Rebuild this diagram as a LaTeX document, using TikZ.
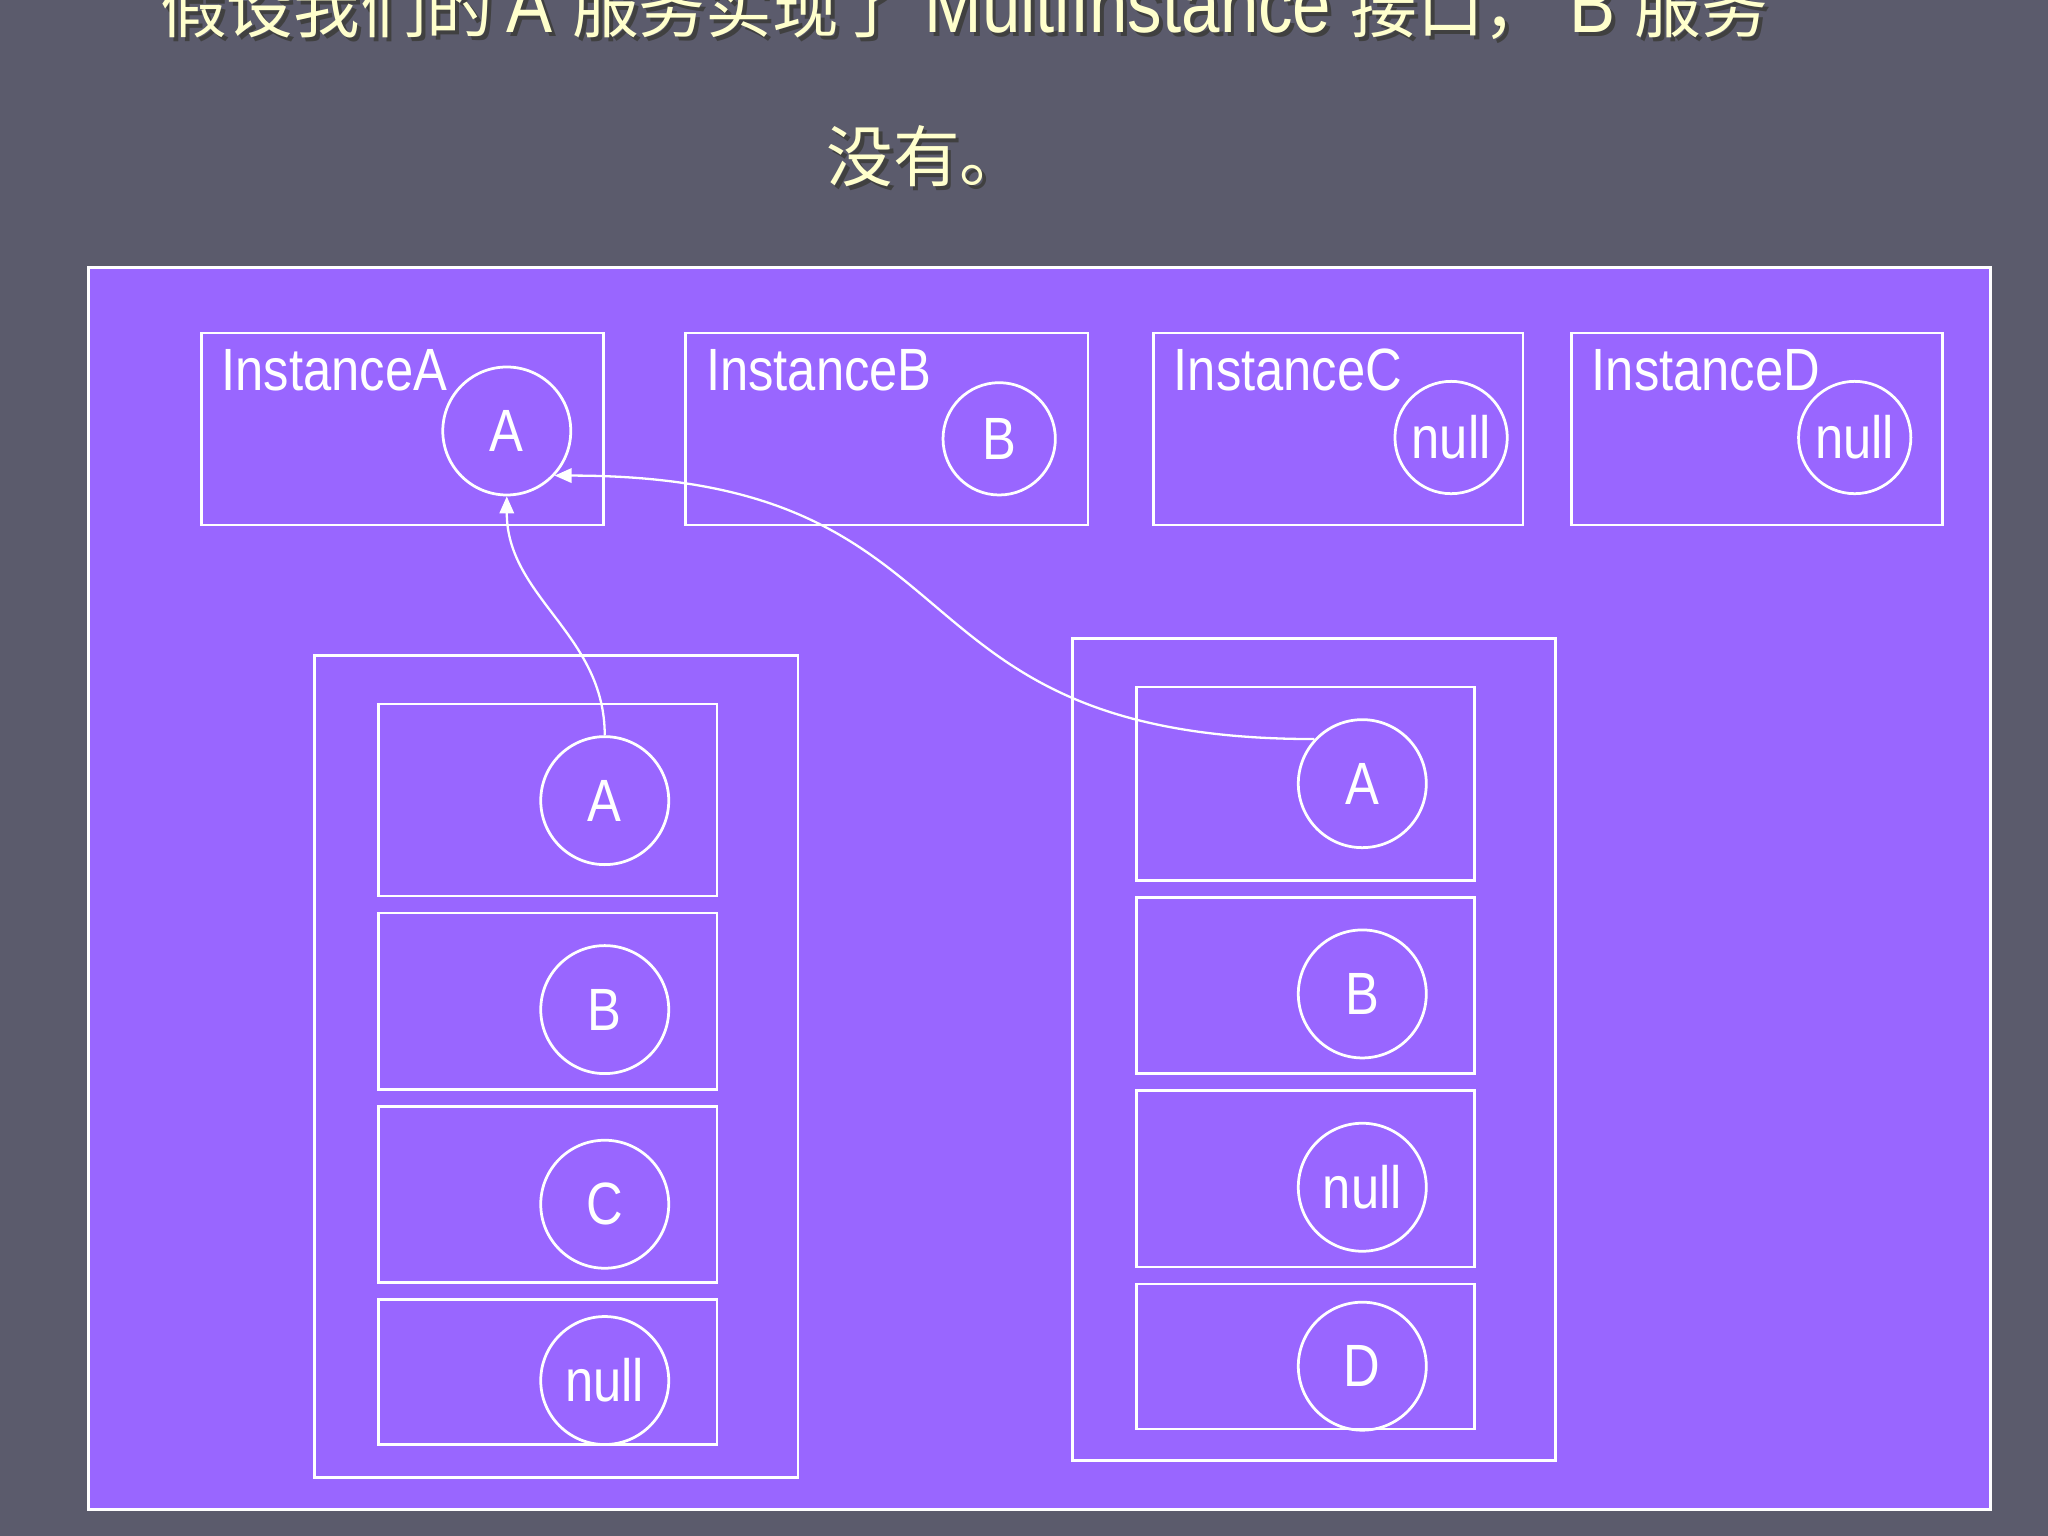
\documentclass[tikz,border=0pt]{standalone}
\usepackage{fontspec}
\setmainfont{Liberation Sans}[FakeStretch=0.85]
\newfontfamily\cjk{Noto Sans CJK SC}[Scale=0.82]
\usepackage{tikz}
\usetikzlibrary{arrows.meta, positioning}
\definecolor{slidegray}{RGB}{91,91,108}
\definecolor{panelpurple}{RGB}{153,102,255}
\definecolor{titlecream}{RGB}{255,255,204}

\newcommand{\firstline}{{\cjk 假设我们的}\,A {\cjk 服务实现了} MultiInstance {\cjk 接口，}\ B {\cjk 服务}}
\newcommand{\secondline}{{\cjk 没有。}}

\begin{document}
\begin{tikzpicture}[
    headline/.style={font=\fontsize{17.7}{20}\selectfont, text=titlecream, inner sep=0, anchor=base west},
    box/.style={rectangle, draw=white, line width=0.6pt, inner sep=0},
    tag/.style={inner sep=0, anchor=base west, text=white, font=\fontsize{13}{15}\selectfont},
    slot/.style={circle, draw=white, line width=0.6pt, inner sep=0, minimum size=0.98cm,
                 text=white, font=\fontsize{13}{15}\selectfont},
    link/.style={draw=white, line width=0.5pt, -{Triangle[length=0.13cm, width=0.11cm]}}
]
    \useasboundingbox (0,0) rectangle (15.68,11.76);
    \clip (0,0) rectangle (15.68,11.76);
    \fill[slidegray] (0,0) rectangle (15.68,11.76);

    % title with its shadow
    \node[headline, text=black!75] (head1shade) at (1.25,11.48) {\firstline};
    \node[headline] (head1) at (1.22,11.51) {\firstline};
    \node[headline, text=black!75] (head2shade) at (6.35,10.34) {\secondline};
    \node[headline] (head2) at (6.32,10.37) {\secondline};

    \node[box, fill=panelpurple, minimum width=14.56cm, minimum height=9.51cm] (panel) at (7.96,4.955) {};

    % the four instances
    \node[box, minimum width=3.08cm, minimum height=1.47cm] (instA) at (3.08,8.475) {};
    \node[box, minimum width=3.08cm, minimum height=1.47cm] (instB) at (6.79,8.475) {};
    \node[box, minimum width=2.83cm, minimum height=1.47cm] (instC) at (10.245,8.475) {};
    \node[box, minimum width=2.84cm, minimum height=1.47cm] (instD) at (13.45,8.475) {};
    \node[tag] (instAtag) at ([xshift=0.16cm, yshift=-0.45cm]instA.north west) {InstanceA};
    \node[tag] (instBtag) at ([xshift=0.16cm, yshift=-0.45cm]instB.north west) {InstanceB};
    \node[tag] (instCtag) at ([xshift=0.16cm, yshift=-0.45cm]instC.north west) {InstanceC};
    \node[tag] (instDtag) at ([xshift=0.16cm, yshift=-0.45cm]instD.north west) {InstanceD};
    \node[slot] (instAobj) at (3.88,8.46) {A};
    \node[slot, minimum size=0.86cm] (instBobj) at (7.65,8.40) {B};
    \node[slot, minimum size=0.86cm] (instCobj) at (11.11,8.41) {null};
    \node[slot, minimum size=0.86cm] (instDobj) at (14.20,8.41) {null};

    % left holder
    \node[box, minimum width=3.70cm, minimum height=6.29cm] (lhold) at (4.26,3.595) {};
    \node[box, minimum width=2.59cm, minimum height=1.47cm] (lrow1) at (4.195,5.635) {};
    \node[box, minimum width=2.59cm, minimum height=1.35cm] (lrow2) at (4.195,4.095) {};
    \node[box, minimum width=2.59cm, minimum height=1.35cm] (lrow3) at (4.195,2.615) {};
    \node[box, minimum width=2.59cm, minimum height=1.11cm] (lrow4) at (4.195,1.255) {};
    \node[slot] (lobj1) at (4.63,5.63) {A};
    \node[slot] (lobj2) at (4.63,4.03) {B};
    \node[slot] (lobj3) at (4.63,2.54) {C};
    \node[slot] (lobj4) at (4.63,1.19) {null};

    % right holder
    \node[box, minimum width=3.70cm, minimum height=6.29cm] (rhold) at (10.06,3.725) {};
    \node[box, minimum width=2.59cm, minimum height=1.48cm] (rrow1) at (9.995,5.76) {};
    \node[box, minimum width=2.59cm, minimum height=1.35cm] (rrow2) at (9.995,4.215) {};
    \node[box, minimum width=2.59cm, minimum height=1.35cm] (rrow3) at (9.995,2.735) {};
    \node[box, minimum width=2.59cm, minimum height=1.11cm] (rrow4) at (9.995,1.375) {};
    \node[slot] (robj1) at (10.43,5.76) {A};
    \node[slot] (robj2) at (10.43,4.15) {B};
    \node[slot] (robj3) at (10.43,2.67) {null};
    \node[slot] (robj4) at (10.43,1.30) {D};

    \draw[link] (lobj1.north) to[out=90, in=-90] (instAobj.south);
    \draw[link] (robj1.137) to[out=180, in=0, looseness=1.4] (instAobj.-43);
\end{tikzpicture}
\end{document}
